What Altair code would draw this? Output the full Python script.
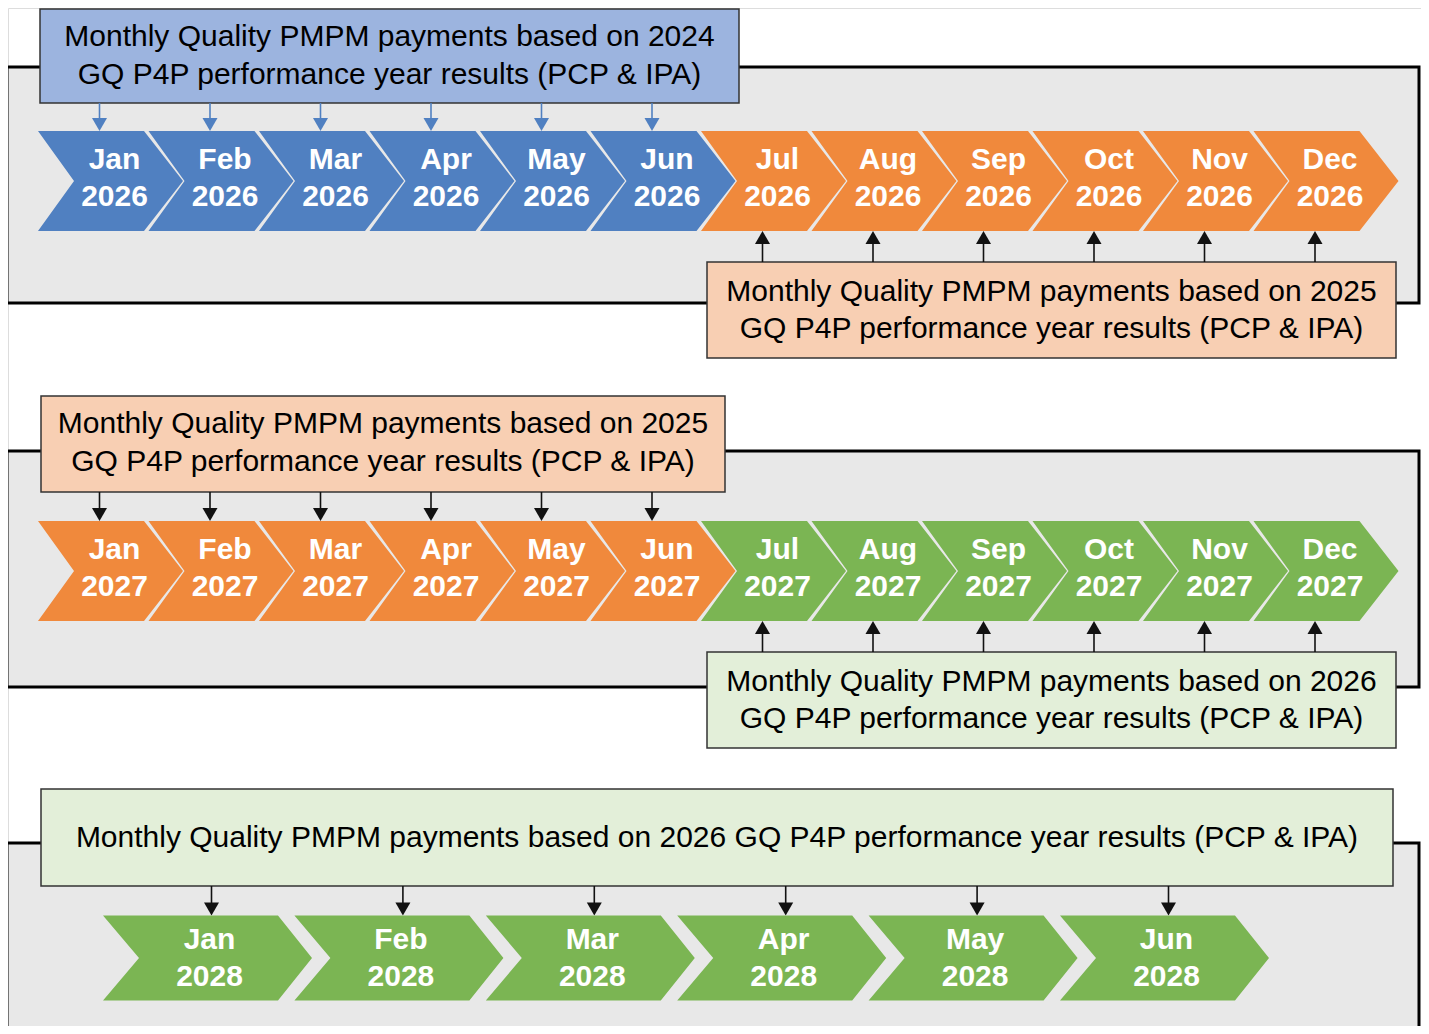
import altair as alt
import pandas as pd

# ---------------- data ----------------
MONTHS = ["Jan", "Feb", "Mar", "Apr", "May", "Jun",
          "Jul", "Aug", "Sep", "Oct", "Nov", "Dec"]
ROW_YEARS = ["2026", "2027", "2028"]
ROW_MONTH_COUNTS = [12, 12, 6]
# performance year whose results fund each payment month
ROW_BASIS = [
    ["2024"] * 6 + ["2025"] * 6,
    ["2025"] * 6 + ["2026"] * 6,
    ["2026"] * 6,
]
LINE1 = "Monthly Quality PMPM payments based on {}"
LINE2 = "GQ P4P performance year results (PCP & IPA)"
# (row, basis year, first month index, last month index, side)
BOX_DEFS = [
    (0, "2024", 0, 5, "top"),
    (0, "2025", 6, 11, "bottom"),
    (1, "2025", 0, 5, "top"),
    (1, "2026", 6, 11, "bottom"),
    (2, "2026", 0, 5, "top"),
]

# ---------------- styling / layout ----------------
DARK = {"2024": "#5080c1", "2025": "#f0893c", "2026": "#7bb553"}
LIGHT = {"2024": "#9cb4df", "2025": "#f8cfb3", "2026": "#e3efd9"}
ARROW = {"2024": "#5080c1", "2025": "#111111", "2026": "#111111"}
PANEL_FILL = "#e8e8e8"
FONT_BOX = "Liberation Sans, Arial, sans-serif"
FONT_CHEV = FONT_BOX

ROWS = [
    dict(left=38, step=110.5, w=145, h=100, notch=36, tip=39, yc=181,
         t1=160, t2=197, panel=(7, 67, 1419, 303)),
    dict(left=38, step=110.5, w=145, h=100, notch=36, tip=39, yc=571,
         t1=550, t2=587, panel=(7, 451, 1419, 687)),
    dict(left=103, step=191.4, w=209, h=85, notch=36, tip=34, yc=958,
         t1=940, t2=977, panel=(7, 843, 1419, 1050)),
]
BOX_GEOM = [
    dict(x1=40, y1=9, x2=739, y2=103, lines=[37, 75]),
    dict(x1=707, y1=262, x2=1396, y2=358, lines=[292, 329]),
    dict(x1=41, y1=396, x2=725, y2=492, lines=[424, 462]),
    dict(x1=707, y1=652, x2=1396, y2=748, lines=[682, 719]),
    dict(x1=41, y1=789, x2=1393, y2=886, lines=[838]),
]
ARROW_OFFSET = [-11, -11, 4]
TEXT_OFFSET = [4, 4, 2]
HEAD_W, HEAD_H = 15, 13

W, H = 1413, 1018
xs = alt.Scale(domain=[8, 8 + W], nice=False, zero=False)
ys = alt.Scale(domain=[8, 8 + H], nice=False, zero=False, reverse=True)


def chevron_path(r):
    w, h, n, t = r["w"], r["h"], r["notch"], r["tip"]
    half = w / 2.0
    pts = [(0, 0), (w - t, 0), (w, h / 2), (w - t, h), (0, h), (n, h / 2)]
    s = " L".join(f"{px / half - 1:.4f},{(py - h / 2) / half:.4f}" for px, py in pts)
    return "M" + s + " Z"


# ---------- build tables ----------
panels, chev, labels, boxes, boxtext, rules, heads = [], [], [], [], [], [], []
for ri, r in enumerate(ROWS):
    px1, py1, px2, py2 = r["panel"]
    panels.append(dict(x=px1, x2=px2, y=py1, y2=py2))
    for i in range(ROW_MONTH_COUNTS[ri]):
        cx = r["left"] + i * r["step"] + r["w"] / 2
        basis = ROW_BASIS[ri][i]
        chev.append(dict(row=ri, x=cx, y=r["yc"], fill=DARK[basis]))
        labels.append(dict(row=ri, x=cx + TEXT_OFFSET[ri], y=r["t1"], text=MONTHS[i]))
        labels.append(dict(row=ri, x=cx + TEXT_OFFSET[ri], y=r["t2"], text=ROW_YEARS[ri]))

for bi, (ri, basis, m0, m1, side) in enumerate(BOX_DEFS):
    g = BOX_GEOM[bi]
    r = ROWS[ri]
    boxes.append(dict(x=g["x1"], x2=g["x2"], y=g["y1"], y2=g["y2"], fill=LIGHT[basis]))
    if len(g["lines"]) == 2:
        texts = [LINE1.format(basis), LINE2]
    else:
        texts = [LINE1.format(basis) + " " + LINE2]
    for ty, tt in zip(g["lines"], texts):
        boxtext.append(dict(x=(g["x1"] + g["x2"]) / 2, y=ty, text=tt))
    ctop = r["yc"] - r["h"] / 2
    cbot = r["yc"] + r["h"] / 2
    for i in range(m0, m1 + 1):
        ax = r["left"] + i * r["step"] + r["w"] / 2 + ARROW_OFFSET[ri]
        if side == "top":
            rules.append(dict(x=ax, y=g["y2"], y2=ctop - HEAD_H + 1, color=ARROW[basis]))
            heads.append(dict(x=ax, y=ctop - HEAD_H / 2, color=ARROW[basis], dir="down"))
        else:
            rules.append(dict(x=ax, y=g["y1"], y2=cbot + HEAD_H - 1, color=ARROW[basis]))
            heads.append(dict(x=ax, y=cbot + HEAD_H / 2, color=ARROW[basis], dir="up"))

X = lambda f="x": alt.X(f"{f}:Q", scale=xs, axis=None)
Y = lambda f="y": alt.Y(f"{f}:Q", scale=ys, axis=None)

panel_layer = alt.Chart(pd.DataFrame(panels)).mark_rect(
    fill=PANEL_FILL, stroke="#000000", strokeWidth=3
).encode(x=X(), x2="x2:Q", y=Y(), y2="y2:Q")

box_layer = alt.Chart(pd.DataFrame(boxes)).mark_rect(
    stroke="#333333", strokeWidth=1.5
).encode(x=X(), x2="x2:Q", y=Y(), y2="y2:Q", fill=alt.Fill("fill:N", scale=None))

rule_layer = alt.Chart(pd.DataFrame(rules)).mark_rule(strokeWidth=1.6).encode(
    x=X(), y=Y(), y2="y2:Q", color=alt.Color("color:N", scale=None)
)

hd = pd.DataFrame(heads)
hh = HEAD_H / HEAD_W
down_path = f"M-1,-{hh:.3f} L1,-{hh:.3f} L0,{hh:.3f} Z"
up_path = f"M-1,{hh:.3f} L1,{hh:.3f} L0,-{hh:.3f} Z"
head_down = alt.Chart(hd[hd["dir"] == "down"]).mark_point(
    shape=down_path, filled=True, size=HEAD_W * HEAD_W, opacity=1, strokeWidth=0
).encode(x=X(), y=Y(), fill=alt.Fill("color:N", scale=None))
head_up = alt.Chart(hd[hd["dir"] == "up"]).mark_point(
    shape=up_path, filled=True, size=HEAD_W * HEAD_W, opacity=1, strokeWidth=0
).encode(x=X(), y=Y(), fill=alt.Fill("color:N", scale=None))

cdf = pd.DataFrame(chev)
chev_layers = []
for ri, r in enumerate(ROWS):
    chev_layers.append(
        alt.Chart(cdf[cdf["row"] == ri]).mark_point(
            shape=chevron_path(r), filled=True, size=r["w"] * r["w"],
            opacity=1, strokeWidth=0
        ).encode(x=X(), y=Y(), fill=alt.Fill("fill:N", scale=None))
    )

label_layer = alt.Chart(pd.DataFrame(labels)).mark_text(
    font=FONT_CHEV, fontSize=30, fontWeight="bold", color="#ffffff",
    align="center", baseline="middle"
).encode(x=X(), y=Y(), text="text:N")

boxtext_layer = alt.Chart(pd.DataFrame(boxtext)).mark_text(
    font=FONT_BOX, fontSize=30, color="#000000", align="center", baseline="middle"
).encode(x=X(), y=Y(), text="text:N")

chart = alt.layer(
    panel_layer, box_layer, rule_layer, head_down, head_up,
    *chev_layers, label_layer, boxtext_layer
).properties(
    width=W, height=H, padding=0, autosize=alt.AutoSizeParams(type="none")
).configure_view(stroke="transparent", strokeWidth=0, fill="#ffffff").configure(background="#ffffff")

chart.save("out.html", embed_options={"renderer": "svg", "actions": False})
